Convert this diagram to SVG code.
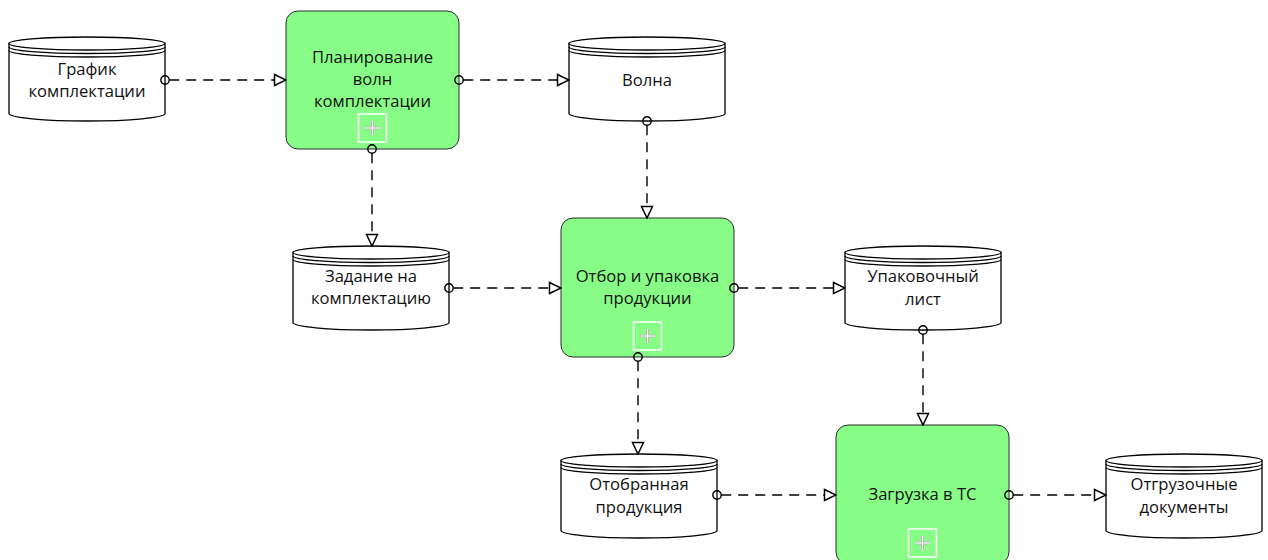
<svg xmlns="http://www.w3.org/2000/svg" width="1268" height="560" viewBox="0 0 1268 560">
  <style>
    .proc { fill: #87fd87; stroke: #2b2b2b; stroke-width: 1; }
    .store { fill: #ffffff; stroke: #000000; stroke-width: 1.3; }
    .band { fill: none; stroke: #000000; stroke-width: 1.3; }
    .lbl { font-family: "Open Sans", "Liberation Sans", sans-serif; font-size: 16.6px; fill: #111111; text-anchor: middle; }
    .plus-box { fill: none; stroke: #ffffff; stroke-width: 1.5; }
    .plus-edge { stroke: #b8b8b8; stroke-width: 3; }
    .plus-core { stroke: #ffffff; stroke-width: 1; }
    .flow { fill: none; stroke: #000000; stroke-width: 1.4; stroke-dasharray: 10 7; marker-start: url(#src); marker-end: url(#dst); }
  </style>
  <defs>
    <!-- open triangle at the receiving end -->
    <marker id="dst" markerUnits="userSpaceOnUse" markerWidth="14" markerHeight="14" viewBox="0 0 14 14" refX="13" refY="7" orient="auto">
      <path d="M1.5,1.5 L13,7 L1.5,12.5 Z" fill="#ffffff" stroke="#000000" stroke-width="1.5"/>
    </marker>
    <!-- small ring at the source end; the line starts at its rim -->
    <marker id="src" markerUnits="userSpaceOnUse" markerWidth="12" markerHeight="12" viewBox="0 0 12 12" refX="10.2" refY="6" orient="auto">
      <circle cx="6" cy="6" r="4.2" fill="none" stroke="#000000" stroke-width="1.4"/>
    </marker>
    <!-- data store: cylinder with a double rim, 156 wide, 84 high -->
    <g id="cyl">
      <path class="store" d="M0,6.5 L0,76.5 A78,7.5 0 0 0 156,76.5 L156,6.5 Z"/>
      <ellipse class="store" cx="78" cy="6.5" rx="78" ry="6.5"/>
      <path class="band" d="M0,10 A78,6.5 0 0 0 156,10 M0,13.5 A78,6.5 0 0 0 156,13.5"/>
    </g>
    <!-- expand marker shown on sub-processes -->
    <g id="plus">
      <rect class="plus-box" x="-14" y="-14" width="28" height="28"/>
      <path class="plus-edge" d="M-7,0 H7 M0,-7 V7"/>
      <path class="plus-core" d="M-7,0 H7 M0,-7 V7"/>
    </g>
  </defs>

  <!-- data stores -->
  <g id="grafik">
    <use href="#cyl" x="9" y="37"/>
    <text class="lbl" x="87" y="75">График</text>
    <text class="lbl" x="87" y="97">комплектации</text>
  </g>
  <g id="volna">
    <use href="#cyl" x="569" y="37"/>
    <text class="lbl" x="647" y="86">Волна</text>
  </g>
  <g id="zadanie">
    <use href="#cyl" x="293" y="246"/>
    <text class="lbl" x="371" y="282">Задание на</text>
    <text class="lbl" x="371" y="304">комплектацию</text>
  </g>
  <g id="upak-list">
    <use href="#cyl" x="845" y="246"/>
    <text class="lbl" x="923" y="282">Упаковочный</text>
    <text class="lbl" x="923" y="305">лист</text>
  </g>
  <g id="otobrannaya">
    <use href="#cyl" x="561" y="454"/>
    <text class="lbl" x="639" y="490">Отобранная</text>
    <text class="lbl" x="639" y="513">продукция</text>
  </g>
  <g id="otgruz-doc">
    <use href="#cyl" x="1106" y="454"/>
    <text class="lbl" x="1184" y="490">Отгрузочные</text>
    <text class="lbl" x="1184" y="513">документы</text>
  </g>

  <!-- processes -->
  <g id="plan-voln">
    <rect class="proc" x="286" y="11" width="173" height="138" rx="12"/>
    <text class="lbl" x="372.5" y="63">Планирование</text>
    <text class="lbl" x="372.5" y="85">волн</text>
    <text class="lbl" x="372.5" y="107">комплектации</text>
    <use href="#plus" x="372.5" y="128"/>
  </g>
  <g id="otbor">
    <rect class="proc" x="561" y="218" width="173" height="139" rx="12"/>
    <text class="lbl" x="647.5" y="282">Отбор и упаковка</text>
    <text class="lbl" x="647.5" y="304">продукции</text>
    <use href="#plus" x="647.5" y="336"/>
  </g>
  <g id="zagruzka">
    <rect class="proc" x="836" y="425" width="173" height="139" rx="12"/>
    <text class="lbl" x="922.5" y="500">Загрузка в ТС</text>
    <use href="#plus" x="922.5" y="543"/>
  </g>

  <!-- flows: each starts at the rim of its source ring -->
  <g id="connectors">
    <path class="flow" d="M169.2,80 H286"/>
    <path class="flow" d="M463.2,80 H569"/>
    <path class="flow" d="M372,153.2 V246"/>
    <path class="flow" d="M647,125.2 V218"/>
    <path class="flow" d="M453.2,288 H561"/>
    <path class="flow" d="M738.2,288 H845"/>
    <path class="flow" d="M638,361.2 V454"/>
    <path class="flow" d="M923,334.2 V425"/>
    <path class="flow" d="M721.2,495 H836"/>
    <path class="flow" d="M1013.2,495 H1106"/>
  </g>
</svg>
